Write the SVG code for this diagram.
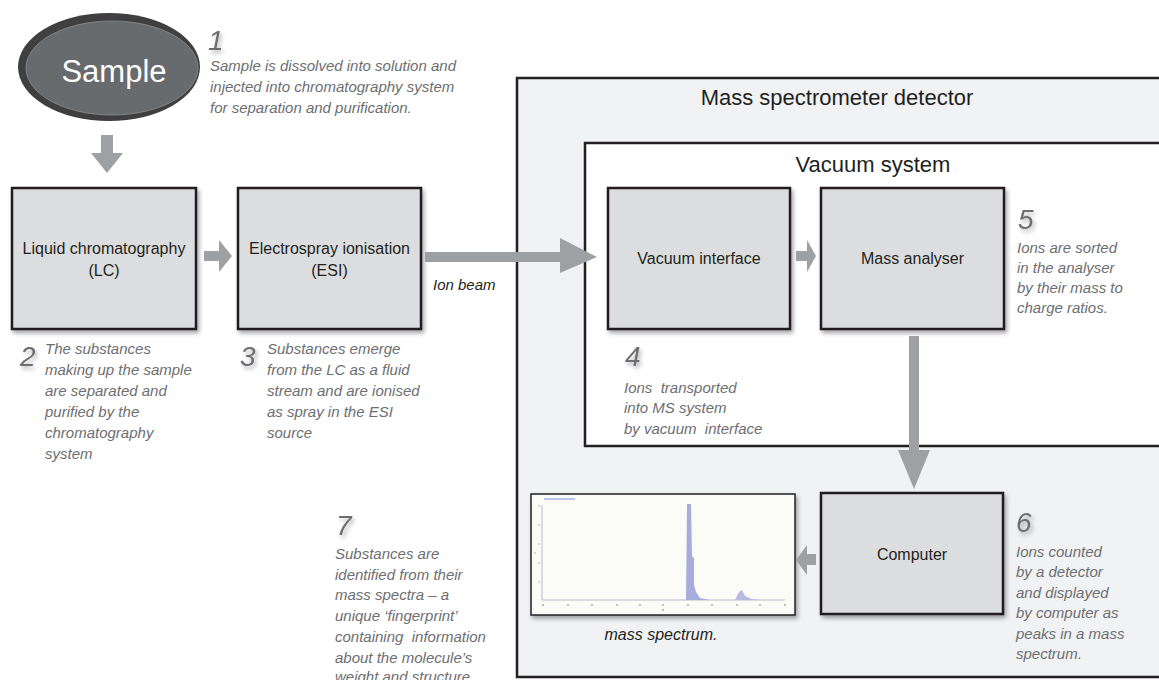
<svg xmlns="http://www.w3.org/2000/svg" width="1159" height="680" viewBox="0 0 1159 680">
<defs>
<filter id="sh" x="-10%" y="-10%" width="130%" height="130%"><feDropShadow dx="2" dy="3" stdDeviation="2" flood-color="#000" flood-opacity="0.35"/></filter>
<filter id="nsh" x="-30%" y="-30%" width="180%" height="180%"><feDropShadow dx="2" dy="3" stdDeviation="2" flood-color="#000" flood-opacity="0.3"/></filter>
</defs>
<style>
text{font-family:"Liberation Sans",Arial,sans-serif}
.box{fill:#dcdddf;stroke:#231f20;stroke-width:2.5;filter:url(#sh)}
.lbl{font-size:16px;fill:#231f20;text-anchor:middle}
.desc{font-size:15px;font-style:italic;fill:#6d6e71}
.num{font-size:28px;font-style:italic;fill:#6d6e71;filter:url(#nsh)}
.arr{fill:#9da1a4}
.title{font-size:22px;fill:#231f20;text-anchor:middle}
</style>
<rect width="1159" height="680" fill="#ffffff"/>

<g id="ms-detector">
<rect x="517" y="78" width="700" height="599" fill="#f1f2f4" stroke="#231f20" stroke-width="2.5"/>
<text class="title" x="837" y="105">Mass spectrometer detector</text>
</g>
<g id="vacuum-system">
<rect x="585" y="143" width="640" height="303" fill="#ffffff" stroke="#231f20" stroke-width="2.5"/>
<text class="title" x="873" y="172">Vacuum system</text>
</g>

<g id="sample">
<ellipse cx="109" cy="67" rx="91" ry="54" fill="#3f3f40"/>
<ellipse cx="112" cy="68" rx="86" ry="47" fill="#686b6d" stroke="#8d8f91" stroke-width="0.8"/>
<text x="114" y="82" font-size="31" fill="#ffffff" text-anchor="middle">Sample</text>
</g>
<g id="step1">
<text class="num" x="208" y="50">1</text>
<text class="desc" x="210" y="71">Sample is dissolved into solution and</text>
<text class="desc" x="210" y="92">injected into chromatography system</text>
<text class="desc" x="210" y="113">for separation and purification.</text>
</g>

<g id="lc">
<rect class="box" x="12" y="188" width="184" height="141"/>
<text class="lbl" x="104" y="254">Liquid chromatography</text>
<text class="lbl" x="104" y="276">(LC)</text>
</g>
<g id="step2">
<text class="num" x="20" y="366">2</text>
<text class="desc" x="45" y="354">The substances</text>
<text class="desc" x="45" y="375">making up the sample</text>
<text class="desc" x="45" y="396">are separated and</text>
<text class="desc" x="45" y="417">purified by the</text>
<text class="desc" x="45" y="438">chromatography</text>
<text class="desc" x="45" y="459">system</text>
</g>

<g id="esi">
<rect class="box" x="238" y="188" width="183" height="141"/>
<text class="lbl" x="329.5" y="254">Electrospray ionisation</text>
<text class="lbl" x="329.5" y="276">(ESI)</text>
</g>
<g id="step3">
<text class="num" x="240" y="366">3</text>
<text class="desc" x="267" y="354">Substances emerge</text>
<text class="desc" x="267" y="375">from the LC as a fluid</text>
<text class="desc" x="267" y="396">stream and are ionised</text>
<text class="desc" x="267" y="417">as spray in the ESI</text>
<text class="desc" x="267" y="438">source</text>
</g>

<g id="vacuum-interface">
<rect class="box" x="608" y="188" width="182" height="141"/>
<text class="lbl" x="699" y="264">Vacuum interface</text>
</g>
<g id="step4">
<text class="num" x="625" y="366">4</text>
<text class="desc" x="624" y="393" xml:space="preserve">Ions  transported</text>
<text class="desc" x="624" y="413">into MS system</text>
<text class="desc" x="624" y="434" xml:space="preserve">by vacuum  interface</text>
</g>

<g id="mass-analyser">
<rect class="box" x="821" y="188" width="183" height="141"/>
<text class="lbl" x="912.5" y="264">Mass analyser</text>
</g>
<g id="step5">
<text class="num" x="1018" y="229">5</text>
<text class="desc" x="1017" y="253">Ions are sorted</text>
<text class="desc" x="1017" y="273">in the analyser</text>
<text class="desc" x="1017" y="293">by their mass to</text>
<text class="desc" x="1017" y="313">charge ratios.</text>
</g>

<g id="computer">
<rect class="box" x="821" y="493" width="182" height="121"/>
<text class="lbl" x="912" y="560">Computer</text>
</g>
<g id="step6">
<text class="num" x="1016" y="532">6</text>
<text class="desc" x="1016" y="557">Ions counted</text>
<text class="desc" x="1016" y="577">by a detector</text>
<text class="desc" x="1016" y="598">and displayed</text>
<text class="desc" x="1016" y="618">by computer as</text>
<text class="desc" x="1016" y="639">peaks in a mass</text>
<text class="desc" x="1016" y="659">spectrum.</text>
</g>

<g id="mass-spectrum">
<rect x="531" y="494" width="264" height="121" fill="#fbfbf8" stroke="#231f20" stroke-width="1.5" filter="url(#sh)"/>
<line x1="542" y1="505" x2="542" y2="600" stroke="#b9bcc9" stroke-width="1"/>
<line x1="542" y1="600" x2="785" y2="600" stroke="#b9bcc9" stroke-width="1"/>
<line x1="544" y1="499" x2="575" y2="499" stroke="#a9b3e0" stroke-width="1.5"/>
<g fill="#a6a8ae">
<circle cx="543" cy="605" r="1"/><circle cx="568" cy="605" r="1"/><circle cx="592" cy="605" r="1"/><circle cx="617" cy="605" r="1"/><circle cx="640" cy="605" r="1"/><circle cx="663" cy="605" r="1"/><circle cx="688" cy="605" r="1"/><circle cx="712" cy="605" r="1"/><circle cx="737" cy="605" r="1"/><circle cx="760" cy="605" r="1"/><circle cx="785" cy="605" r="1"/><circle cx="663" cy="610" r="1"/>
<circle cx="539" cy="506" r="0.8"/><circle cx="539" cy="525" r="0.8"/><circle cx="539" cy="544" r="0.8"/><circle cx="539" cy="563" r="0.8"/><circle cx="539" cy="582" r="0.8"/><circle cx="535" cy="553" r="0.8"/>
</g>
<path d="M684 600 L686 600 L687 504 L691 504 L692 556 L694 558 L694 585 L696 592 L700 598 L710 600 Z" fill="#a8acdc"/>
<path d="M735 600 L739 592 L742 590 L745 596 L752 599 L760 600 Z" fill="#b7badf"/>
<text x="661" y="640" font-size="16" font-style="italic" fill="#231f20" text-anchor="middle">mass spectrum.</text>
</g>
<g id="step7">
<text class="num" x="336" y="535">7</text>
<text class="desc" x="335" y="559">Substances are</text>
<text class="desc" x="335" y="580">identified from their</text>
<text class="desc" x="335" y="600">mass spectra – a</text>
<text class="desc" x="335" y="621">unique ‘fingerprint’</text>
<text class="desc" x="335" y="642" xml:space="preserve">containing  information</text>
<text class="desc" x="335" y="663">about the molecule’s</text>
<text class="desc" x="335" y="682">weight and structure</text>
</g>

<g id="connectors">
<polygon class="arr" points="101,135 113,135 113,153 123,153 107,173 91,153 101,153"/>
<polygon class="arr" points="204,251 219,251 219,240 232,256 219,272 219,261 204,261"/>
<polygon class="arr" points="425,252 560,252 560,238 597,257 560,273 560,262 425,262"/>
<text x="433" y="290" font-size="15" font-style="italic" fill="#231f20">Ion beam</text>
<polygon class="arr" points="796,251 807,251 807,240 816,256 807,272 807,261 796,261"/>
<polygon class="arr" points="909,336 919,336 919,450 930,450 914,489 898,450 909,450"/>
<polygon class="arr" points="816,554 807,554 807,545 796,560 807,575 807,565 816,565"/>
</g>
</svg>
